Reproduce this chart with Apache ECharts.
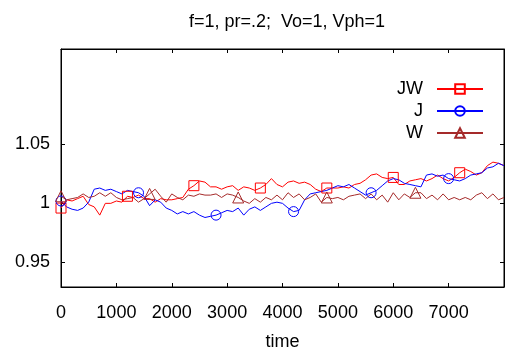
<!DOCTYPE html>
<html>
<head>
<meta charset="utf-8">
<script src="https://cdn.jsdelivr.net/npm/echarts@6/dist/echarts.min.js"></script>
<style>
html, body { margin: 0; padding: 0; background: #fff; }
#chart { width: 509px; height: 357px; }
</style>
</head>
<body>
<div id="chart"></div>
<script>
// time axis, one sample every 100
var time = [0, 100, 200, 300, 400, 500, 600, 700, 800, 900,
    1000, 1100, 1200, 1300, 1400, 1500, 1600, 1700, 1800, 1900,
    2000, 2100, 2200, 2300, 2400, 2500, 2600, 2700, 2800, 2900,
    3000, 3100, 3200, 3300, 3400, 3500, 3600, 3700, 3800, 3900,
    4000, 4100, 4200, 4300, 4400, 4500, 4600, 4700, 4800, 4900,
    5000, 5100, 5200, 5300, 5400, 5500, 5600, 5700, 5800, 5900,
    6000, 6100, 6200, 6300, 6400, 6500, 6600, 6700, 6800, 6900,
    7000, 7100, 7200, 7300, 7400, 7500, 7600, 7700, 7800, 7900, 8000];

var jw = [0.996, 1.003, 1.002, 1.004, 1.006, 0.999, 0.997, 0.990, 1.000, 1.000,
    1.002, 1.001, 1.006, 1.005, 1.007, 1.004, 1.004, 1.001, 1.004, 1.003,
    1.003, 1.004, 1.005, 1.012, 1.015, 1.019, 1.018, 1.014, 1.014, 1.012,
    1.014, 1.015, 1.011, 1.014, 1.013, 1.011, 1.013, 1.016, 1.021, 1.016,
    1.014, 1.018, 1.019, 1.017, 1.018, 1.016, 1.012, 1.010, 1.013, 1.013,
    1.013, 1.014, 1.013, 1.016, 1.017, 1.020, 1.024, 1.025, 1.022, 1.021,
    1.022, 1.016, 1.016, 1.019, 1.020, 1.021, 1.019, 1.021, 1.024, 1.021,
    1.019, 1.022, 1.026, 1.029, 1.027, 1.024, 1.026, 1.032, 1.035, 1.034, 1.032];

var j = [1.002, 0.997, 0.995, 0.994, 0.996, 1.001, 1.012, 1.013, 1.011, 1.012,
    1.010, 1.008, 1.011, 1.010, 1.009, 1.006, 0.998, 1.003, 1.001, 0.996,
    0.994, 0.991, 0.993, 0.991, 0.993, 0.990, 0.988, 0.989, 0.990, 0.992,
    0.994, 0.993, 0.996, 0.990, 0.995, 0.997, 0.994, 0.997, 1.000, 1.001,
    1.000, 0.996, 0.993, 0.994, 1.003, 1.008, 1.009, 1.010, 1.011, 1.013,
    1.015, 1.014, 1.016, 1.013, 1.010, 1.007, 1.009, 1.011, 1.015, 1.019,
    1.021, 1.020, 1.017, 1.016, 1.015, 1.014, 1.024, 1.025, 1.023, 1.024,
    1.021, 1.020, 1.019, 1.021, 1.024, 1.025, 1.026, 1.030, 1.031, 1.034, 1.032];

var w = [1.006, 1.003, 1.004, 1.005, 1.008, 1.005, 1.006, 1.009, 1.006, 1.009,
    1.005, 1.003, 1.004, 1.005, 1.001, 1.004, 1.008, 1.012, 1.006, 1.001,
    1.008, 1.005, 1.003, 1.007, 1.006, 1.008, 1.007, 1.007, 1.008, 1.005,
    1.008, 1.007, 1.005, 1.002, 1.000, 1.004, 1.001, 1.005, 1.003, 1.007,
    1.003, 1.009, 1.005, 1.008, 1.003, 1.005, 1.008, 1.001, 1.005, 1.004,
    1.005, 1.003, 1.006, 1.007, 1.008, 1.004, 1.008, 1.003, 1.007, 1.001,
    1.009, 1.003, 1.008, 1.005, 1.009, 1.009, 1.004, 1.007, 1.003, 1.008,
    1.003, 1.005, 1.003, 1.005, 1.003, 1.007, 1.009, 1.004, 1.008, 1.003, 1.005];

// where the point markers sit
var jwMarks = [0, 1200, 2400, 3600, 4800, 6000, 7200];
var jMarks = [0, 1400, 2800, 4200, 5600, 7000];
var wMarks = [0, 1600, 3200, 4800, 6400];

var yTicks = [0.95, 1, 1.05];

var FONT = 'Liberation Sans, Arial, sans-serif';

function toData(vals, marks) {
    return time.map(function (t, i) {
        var item = { value: [t, vals[i]] };
        if (marks.indexOf(t) < 0) item.symbol = 'none';
        return item;
    });
}

function lineSeries(name, vals, marks, color, symbol, size) {
    return {
        name: name,
        type: 'line',
        data: toData(vals, marks),
        symbol: symbol,
        symbolSize: size,
        showAllSymbol: true,
        lineStyle: { width: 1, color: color },
        itemStyle: { color: 'rgba(255,255,255,0)', borderColor: color, borderWidth: 1 },
        emphasis: { disabled: true },
        animation: false
    };
}

var axisLine = { show: true, onZero: false, lineStyle: { color: '#000', width: 1 } };

var myChart = echarts.init(document.getElementById('chart'));
myChart.setOption({
    animation: false,
    title: {
        text: 'f=1, pr=.2;  Vo=1, Vph=1',
        left: 282,
        textAlign: 'center',
        top: 8,
        textStyle: { fontFamily: FONT, fontSize: 18, fontWeight: 'normal', color: '#000' }
    },
    legend: {
        orient: 'vertical',
        right: 20,
        top: 75,
        align: 'right',
        itemWidth: 46,
        itemHeight: 12,
        itemGap: 4,
        selectedMode: false,
        textStyle: { fontFamily: FONT, fontSize: 18, color: '#000', padding: [0, 9, 0, 0] },
        data: ['JW', 'J', 'W']
    },
    grid: { left: 61, right: 5, top: 49, bottom: 70, show: true, borderColor: '#000', borderWidth: 1 },
    xAxis: [{
        type: 'value',
        min: 0,
        max: 8000,
        interval: 1000,
        name: 'time',
        nameLocation: 'middle',
        nameGap: 46,
        nameTextStyle: { fontFamily: FONT, fontSize: 18, color: '#000' },
        axisLine: axisLine,
        axisTick: { show: true, inside: true, length: 4, lineStyle: { color: '#000' } },
        axisLabel: {
            fontFamily: FONT, fontSize: 18, color: '#000', margin: 17,
            showMaxLabel: false,
            formatter: function (v) { return String(v); }
        },
        splitLine: { show: false }
    }, {
        type: 'value',
        position: 'top',
        min: 0,
        max: 8000,
        interval: 1000,
        axisLine: axisLine,
        axisTick: { show: true, inside: true, length: 4, lineStyle: { color: '#000' } },
        axisLabel: { show: false },
        splitLine: { show: false }
    }],
    yAxis: [{
        type: 'value',
        min: 0.929,
        max: 1.131,
        axisLine: axisLine,
        axisTick: { show: true, inside: true, length: 4, customValues: yTicks, lineStyle: { color: '#000' } },
        axisLabel: {
            fontFamily: FONT, fontSize: 18, color: '#000', margin: 11,
            customValues: yTicks,
            formatter: function (v) { return String(+v.toFixed(2)); }
        },
        splitLine: { show: false }
    }, {
        type: 'value',
        position: 'right',
        min: 0.929,
        max: 1.131,
        axisLine: axisLine,
        axisTick: { show: true, inside: true, length: 4, customValues: yTicks, lineStyle: { color: '#000' } },
        axisLabel: { show: false },
        splitLine: { show: false }
    }],
    series: [
        lineSeries('JW', jw, jwMarks, '#ff0000', 'rect', 10),
        lineSeries('J', j, jMarks, '#0000ff', 'circle', 10),
        lineSeries('W', w, wMarks, '#a52a2a', 'triangle', 11)
    ]
});
</script>
</body>
</html>
